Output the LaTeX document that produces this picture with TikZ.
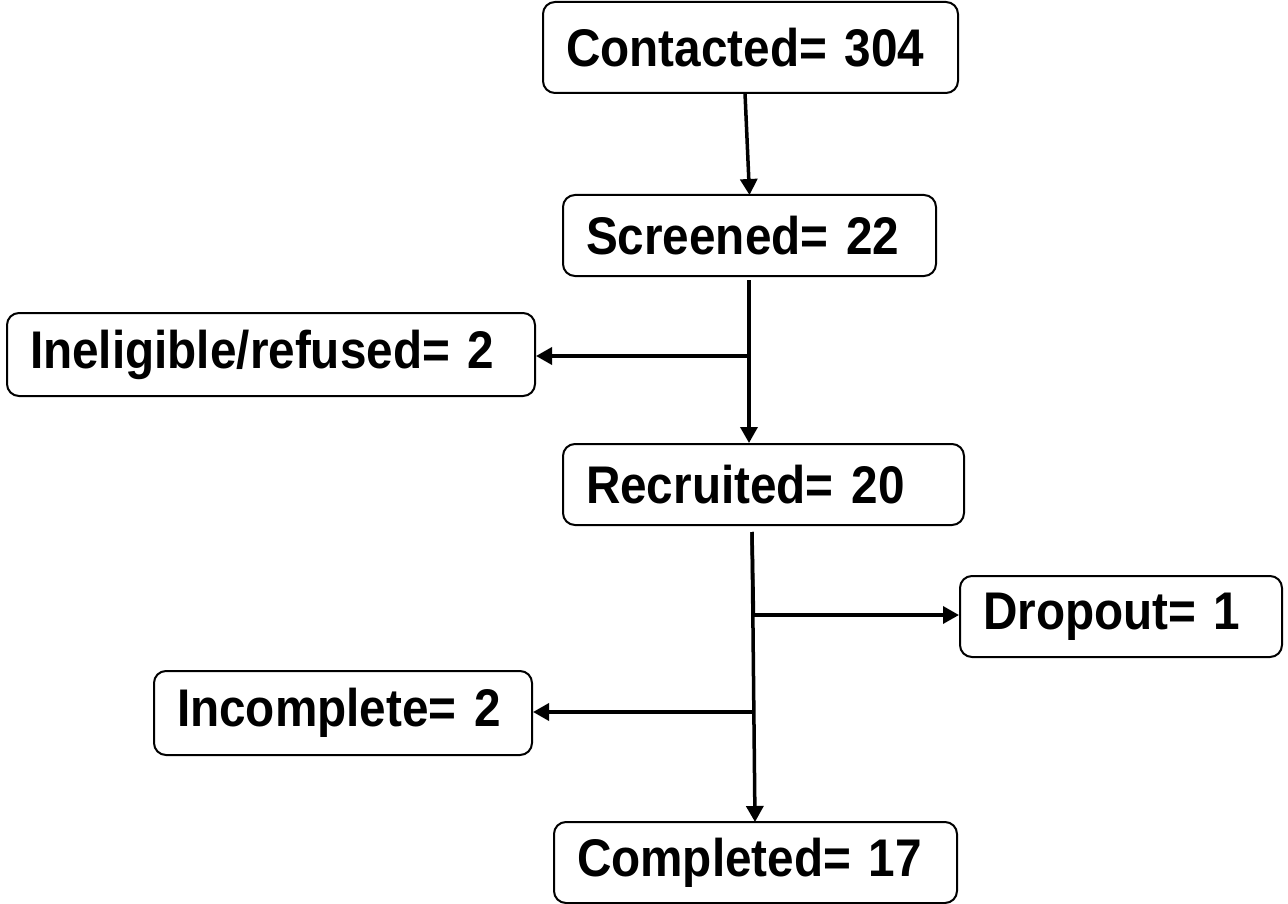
\documentclass[tikz,border=0pt]{standalone}
\usepackage{fontspec}
\newfontfamily\boxfont{Liberation Sans}[FakeStretch=0.9]
\usetikzlibrary{arrows.meta}
\begin{document}
\begin{tikzpicture}[x=1pt,y=-1pt,
  box/.style={draw,line width=2pt,rounded corners=12pt,
    font=\boxfont\bfseries\fontsize{53}{60}\selectfont,
    inner xsep=23pt,inner ysep=0pt,align=left,minimum height=#1},
  box/.default=81pt,
  arr/.style={line width=3.5pt,-{Triangle[length=16pt,width=17pt]}},
  ln/.style={line width=3.5pt}]
\useasboundingbox (0,0) rectangle (1288,904);
\node[box=91pt,text width=369pt] (c) at (750.5,47.5) {Contacted= 304};
\node[box,text width=327pt] (s) at (749.5,235.5) {Screened= 22};
\node[box=83pt,text width=482pt] (i) at (271,354.5) {Ineligible/refused= 2};
\node[box,text width=355pt] (r) at (763.5,484.5) {Recruited= 20};
\node[box,text width=276pt] (d) at (1121,616.5) {Dropout= 1};
\node[box=84pt,text width=332pt] (n) at (343,713) {Incomplete= 2};
\node[box,text width=357pt] (f) at (755.5,862.5) {Completed= 17};
\coordinate (s0) at (749,280);
\coordinate (b1) at (749.5,356);
\coordinate (r0) at (752,532);
\coordinate (b2) at (753.5,615);
\coordinate (b3) at (754,712);
\draw[arr] (745,93) -- (749.5,195);
\draw[arr] (s0) -- (s0 |- r.north);
\draw[arr] (b1) -- (b1 -| i.east);
\draw[ln] (r0) -- (b2);
\draw[arr] (b2) -- (b2 -| d.west);
\draw[arr] (b3) -- (b3 -| n.east);
\draw[arr] (r0) -- (755,822);
\end{tikzpicture}
\end{document}
